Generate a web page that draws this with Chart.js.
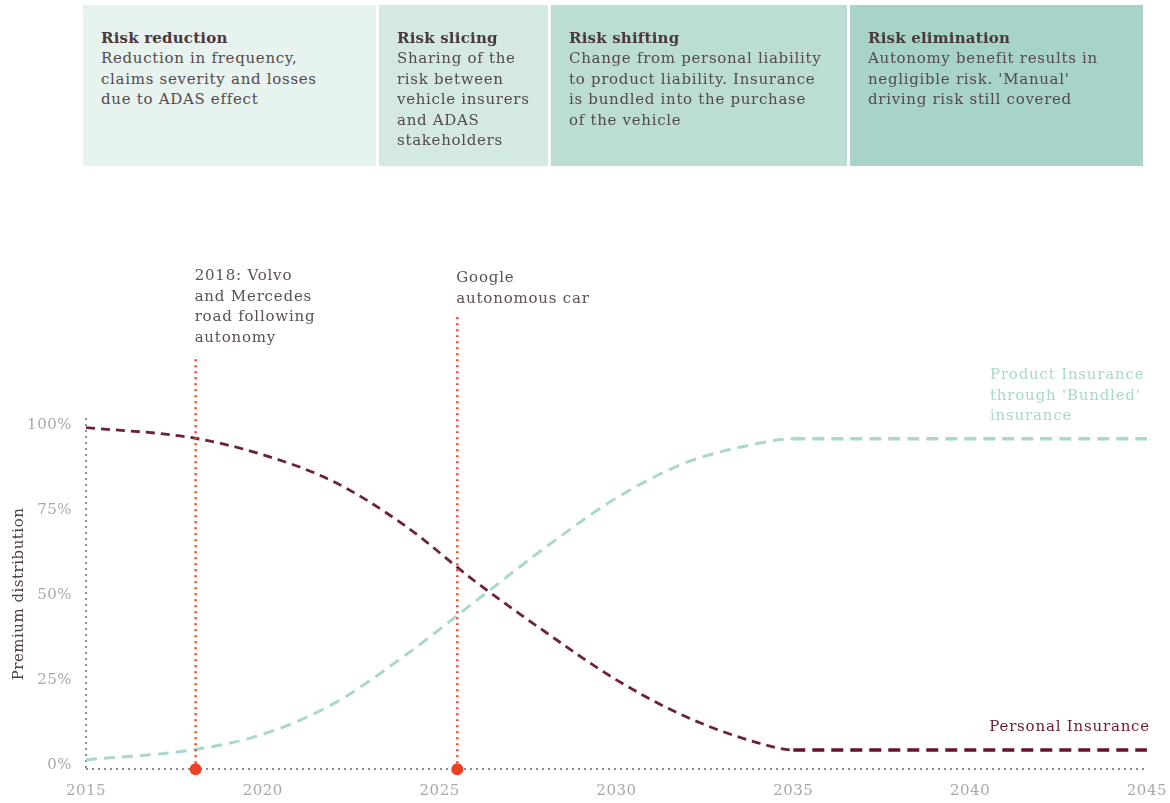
<!DOCTYPE html>
<html>
<head>
<meta charset="utf-8">
<script src="https://cdn.jsdelivr.net/npm/chart.js@4.4.1/dist/chart.umd.min.js"></script>
<style>
  html, body { margin: 0; padding: 0; background: #fff; }
  #wrap { position: relative; width: 1170px; height: 803px; overflow: hidden; }
  #chart { position: absolute; left: 0; top: 0; }
  .box {
    position: absolute; top: 5px; height: 161px; box-sizing: border-box;
    padding: 23px 0 0 18px;
    font-family: "DejaVu Serif", serif; font-size: 15px; line-height: 20.4px;
    letter-spacing: 0.7px;
    color: #54494e;
  }
  .box b { color: #4a3a40; display: block; letter-spacing: 0.2px; }
</style>
</head>
<body>
<div id="wrap">
  <canvas id="chart" width="1170" height="803"></canvas>
</div>
<script>
// phases shown above the chart
const phaseTitles = ['Risk reduction', 'Risk slicing', 'Risk shifting', 'Risk elimination'];
const phaseTexts = [
    ['Reduction in frequency,', 'claims severity and losses', 'due to ADAS effect'],
    ['Sharing of the', 'risk between', 'vehicle insurers', 'and ADAS', 'stakeholders'],
    ['Change from personal liability', 'to product liability. Insurance', 'is bundled into the purchase', 'of the vehicle'],
    ['Autonomy benefit results in', 'negligible risk. \'Manual\'', 'driving risk still covered']
];
const phaseColors = ['#e6f3ef', '#d3e9e2', '#bcddd4', '#a7d3c9'];

// series (year, % of premium)
const years = [2015, 2018, 2020, 2022, 2024, 2026, 2028, 2030, 2032, 2034, 2035, 2045];
const personal = [99.2, 96.2, 91.2, 83.3, 70.5, 54, 39, 25, 14, 6.5, 4.4, 4.4];
const product = [1.5, 4.4, 9, 18, 32, 48, 64, 78.5, 89, 94.5, 95.9, 95.9];

const xTicks = [2015, 2020, 2025, 2030, 2035, 2040, 2045];
const yTicks = [0, 25, 50, 75, 100];

// event markers
const eventYears = [2018.1, 2025.5];
const eventTops = [120, 132];
const eventLabels = [
    ['2018: Volvo', 'and Mercedes', 'road following', 'autonomy'],
    ['Google', 'autonomous car']
];

const FONT = '"DejaVu Serif", serif';

const boxLefts = [83, 379, 551, 850];
const boxRights = [376, 548, 847, 1143];
const wrap = document.getElementById('wrap');
phaseTitles.forEach((t, i) => {
    const d = document.createElement('div');
    d.className = 'box';
    d.style.left = boxLefts[i] + 'px';
    d.style.width = (boxRights[i] - boxLefts[i]) + 'px';
    d.style.background = phaseColors[i];
    d.innerHTML = '<b>' + t + '</b>' + phaseTexts[i].join('<br>');
    wrap.appendChild(d);
});

const pts = arr => years.map((y, i) => ({ x: y, y: arr[i] }));
const flat = ctx => ctx.p0.parsed.x >= 2035;

const eventSets = eventYears.map((yr, i) => ({
    data: [{ x: yr, y: -1.3 }, { x: yr, y: eventTops[i] }],
    borderColor: '#f0462a',
    borderWidth: 2.5,
    borderDash: [2, 4],
    pointRadius: [6, 0],
    pointBackgroundColor: '#ee4027',
    pointBorderWidth: 0,
    clip: false,
    order: 0
}));

// dotted axes (scale borders in Chart.js cannot be dashed)
const axesPlugin = {
    id: 'dotAxes',
    beforeDraw(c) {
        c.ctx.letterSpacing = '0.5px';
    },
    beforeDatasetsDraw(c) {
        const g = c.ctx, a = c.chartArea;
        g.save();
        g.strokeStyle = '#8c8c8c';
        g.lineWidth = 2;
        g.setLineDash([2, 4]);
        g.beginPath();
        g.moveTo(a.left, a.top);
        g.lineTo(a.left, a.bottom - 1);
        g.moveTo(a.left, a.bottom - 1);
        g.lineTo(a.right, a.bottom - 1);
        g.stroke();
        g.restore();
    }
};

const textPlugin = {
    id: 'texts',
    afterDraw(c) {
        const g = c.ctx;
        const xs = c.scales.x;
        g.save();
        g.font = '15px ' + FONT;
        g.letterSpacing = '0.8px';
        g.textBaseline = 'middle';
        g.fillStyle = '#5a5055';
        eventLabels.forEach((lines, i) => {
            const x = xs.getPixelForValue(eventYears[i]) - 1;
            const top = i === 0 ? 276 : 278;
            lines.forEach((l, j) => g.fillText(l, x, top + j * 20.7));
        });
        g.fillStyle = '#a9d8cc';
        ['Product Insurance', 'through \'Bundled\'', 'insurance'].forEach((l, j) =>
            g.fillText(l, 990, 375 + j * 20.7));
        g.fillStyle = '#6b1a30';
        g.textAlign = 'right';
        g.fillText('Personal Insurance', 1150, 727);
        g.restore();
    }
};

new Chart(document.getElementById('chart'), {
    type: 'line',
    data: {
        datasets: [
            {
                data: pts(personal),
                borderColor: '#6e2238',
                borderWidth: 2.8,
                borderDash: [9, 6],
                pointRadius: 0,
                cubicInterpolationMode: 'monotone',
                segment: {
                    borderWidth: c => flat(c) ? 3.5 : 2.8,
                    borderDash: c => flat(c) ? [12, 7] : [9, 6],
                    borderColor: c => flat(c) ? '#6b0f2b' : '#6e2238'
                },
                order: 1
            },
            {
                data: pts(product),
                borderColor: '#a9d8cc',
                borderWidth: 3,
                borderDash: [11, 7],
                pointRadius: 0,
                cubicInterpolationMode: 'monotone',
                segment: {
                    borderWidth: c => flat(c) ? 3.5 : 3,
                    borderDash: c => flat(c) ? [12, 7] : [11, 7]
                },
                order: 2
            },
            ...eventSets
        ]
    },
    options: {
        responsive: false,
        animation: false,
        layout: { padding: { top: 418, right: 22, left: 0, bottom: 0 } },
        plugins: { legend: { display: false }, tooltip: { enabled: false } },
        scales: {
            x: {
                type: 'linear',
                min: 2015,
                max: 2045,
                afterBuildTicks: s => { s.ticks = xTicks.map(v => ({ value: v })); },
                afterFit: s => { s.height = 33; },
                grid: { display: false },
                border: { display: false },
                ticks: {
                    color: '#a8a8a8',
                    font: { family: FONT, size: 15 },
                    padding: 4,
                    maxRotation: 0,
                    callback: v => String(v)
                }
            },
            y: {
                min: -1.5,
                max: 102,
                afterBuildTicks: s => { s.ticks = yTicks.map(v => ({ value: v })); },
                afterFit: s => { s.width = 86; },
                grid: { display: false },
                border: { display: false },
                title: {
                    display: true,
                    text: 'Premium distribution',
                    color: '#4a4045',
                    font: { family: FONT, size: 15 },
                    padding: { top: 10, bottom: 0 }
                },
                ticks: {
                    color: '#a8a8a8',
                    font: { family: FONT, size: 15 },
                    padding: 6,
                    callback: v => v + '%'
                }
            }
        }
    },
    plugins: [axesPlugin, textPlugin]
});
</script>
</body>
</html>
